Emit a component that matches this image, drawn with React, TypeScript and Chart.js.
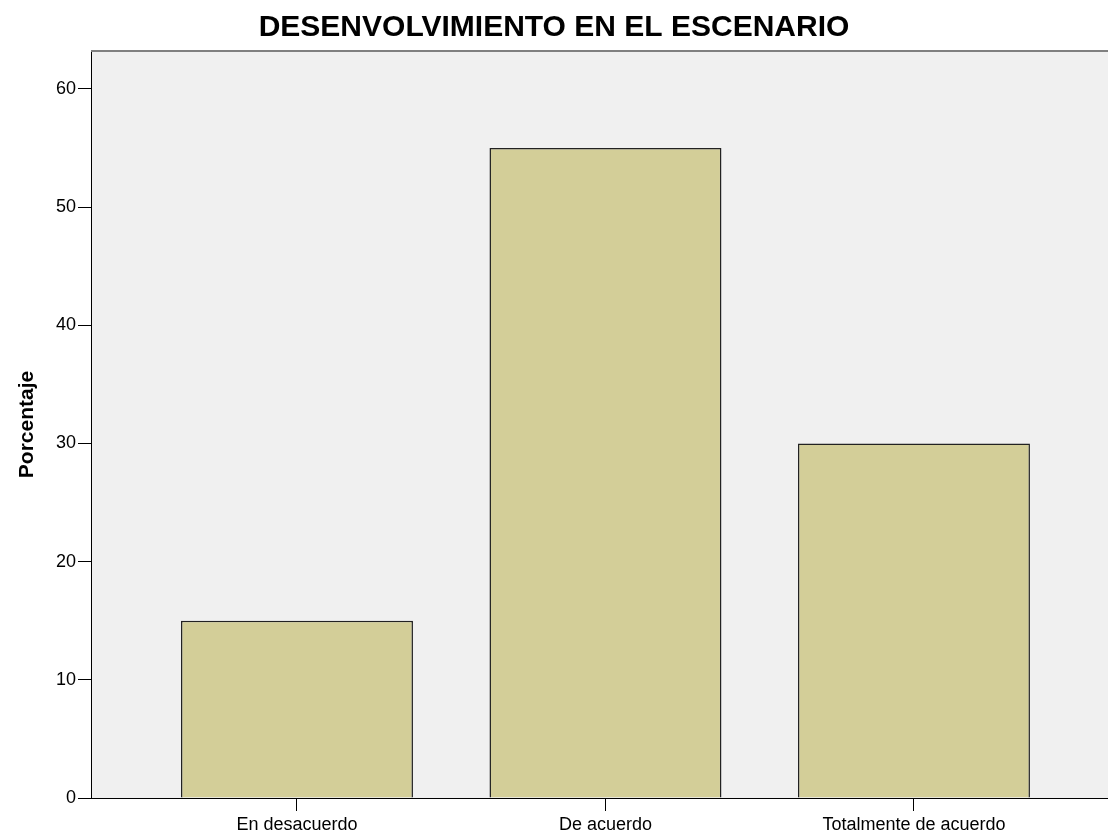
import React, { useEffect, useRef } from "react";
import { Chart, registerables } from "chart.js";

Chart.register(...registerables);

const categories = ["En desacuerdo", "De acuerdo", "Totalmente de acuerdo"];
const percentages = [15, 55, 30];
const yTicks = [0, 10, 20, 30, 40, 50, 60];
const chartTitle = "DESENVOLVIMIENTO EN EL ESCENARIO";
const yAxisTitle = "Porcentaje";

const FONT = "'Liberation Sans', Arial, Helvetica, sans-serif";

const plotBg = {
  id: "plotBg",
  beforeDraw(chart: any) {
    const { ctx, chartArea } = chart;
    if (!chartArea) return;
    ctx.save();
    ctx.fillStyle = "#f0f0f0";
    ctx.fillRect(chartArea.left, chartArea.top, chartArea.right - chartArea.left, chartArea.bottom - chartArea.top);
    ctx.restore();
  },
  afterDraw(chart: any) {
    const { ctx, chartArea } = chart;
    if (!chartArea) return;
    ctx.save();
    ctx.strokeStyle = "#808080";
    ctx.lineWidth = 2;
    ctx.beginPath();
    ctx.moveTo(chartArea.left, chartArea.top);
    ctx.lineTo(chartArea.right, chartArea.top);
    ctx.stroke();
    ctx.restore();
  },
};

export default function App() {
  const ref = useRef<HTMLCanvasElement | null>(null);

  useEffect(() => {
    if (!ref.current) return;
    const chart = new Chart(ref.current, {
      type: "bar",
      data: {
        datasets: [
          {
            data: percentages.map((v, i) => ({ x: i + 1, y: v })),
            backgroundColor: "#d3ce98",
            borderColor: "#222222",
            borderWidth: 1.5,
            barPercentage: 0.752,
            categoryPercentage: 1,
          },
        ],
      },
      options: {
        responsive: false,
        animation: false,
        layout: { padding: 0 },
        plugins: {
          legend: { display: false },
          tooltip: { enabled: false },
          title: {
            display: true,
            text: chartTitle,
            color: "#000",
            font: { family: FONT, size: 30, weight: "bold" },
            padding: { top: 10, bottom: 5 },
          },
        },
        scales: {
          x: {
            type: "linear",
            offset: false,
            min: 0.3323,
            max: 3.629,
            afterFit: (scale: any) => {
              scale.height = 34;
            },
            afterBuildTicks: (scale: any) => {
              scale.ticks = categories.map((_, i) => ({ value: i + 1 }));
            },
            ticks: {
              callback: (value: any) => categories[Number(value) - 1] ?? "",
              color: "#000",
              font: { family: FONT, size: 18 },
              padding: 3,
              maxRotation: 0,
              autoSkip: false,
            },
            grid: {
              offset: false,
              drawOnChartArea: false,
              drawTicks: true,
              tickLength: 13,
              color: "#000",
            },
            border: { display: true, color: "#000", width: 1 },
          },
          y: {
            min: 0,
            max: 63.2,
            afterFit: (scale: any) => {
              scale.width = 91;
            },
            afterBuildTicks: (scale: any) => {
              scale.ticks = yTicks.map((v) => ({ value: v }));
            },
            ticks: {
              color: "#000",
              font: { family: FONT, size: 18 },
              padding: 2,
            },
            grid: {
              drawOnChartArea: false,
              drawTicks: true,
              tickLength: 13,
              color: "#000",
            },
            border: { display: true, color: "#000", width: 1 },
            title: {
              display: true,
              text: yAxisTitle,
              color: "#000",
              font: { family: FONT, size: 21, weight: "bold" },
              padding: { top: 15, bottom: 0 },
            },
          },
        },
      },
      plugins: [plotBg],
    });
    return () => chart.destroy();
  }, []);

  return (
    <div
      style={{
        position: "fixed",
        left: 0,
        top: 0,
        width: 1108,
        height: 832,
        overflow: "hidden",
        background: "#fff",
      }}
    >
      <canvas ref={ref} width={1108} height={832} style={{ display: "block" }} />
    </div>
  );
}
